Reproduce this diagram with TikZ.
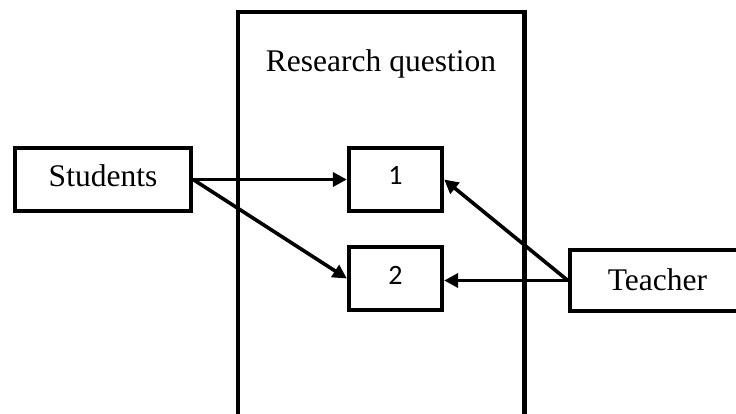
\documentclass[tikz,border=0pt]{standalone}
\usepackage{fontspec}
\setmainfont{Liberation Serif}
\newfontfamily\numfont{Carlito}
\usetikzlibrary{arrows.meta}
\begin{document}
\begin{tikzpicture}[x=1pt,y=-1pt,
  boxstyle/.style={draw, line width=4.3pt, inner sep=0pt, minimum height=63pt,
    font=\fontsize{31.5}{36}\selectfont},
  numbox/.style={boxstyle, minimum width=93pt, text height=11pt, text depth=0pt,
    font=\numfont\fontsize{28}{32}\selectfont},
  conn/.style={line width=3.6pt, -{Triangle[length=14pt,width=14pt]}}]
\useasboundingbox (0,0) rectangle (736,414);
\clip (0,0) rectangle (736,414);
% frame
\node (frame) [draw, line width=4.6pt, minimum width=286.5pt, minimum height=460pt,
  inner sep=0pt, anchor=north] at (381.3,9.8) {};
\node (rq) [anchor=base, inner sep=0pt, font=\fontsize{31.5}{36}\selectfont] at (381,72) {Research question};
% boxes
\node (st) [boxstyle, minimum width=176pt, text height=15pt, text depth=0pt] at (103,179.5) {Students};
\node (b1) [numbox] at (395.5,179.5) {1};
\node (b2) [numbox] at (395.5,278.5) {2};
\node (te) [boxstyle, minimum width=175pt, minimum height=61pt, text height=19pt, text depth=0pt] at (657.5,280.5) {Teacher};
% connectors
\draw[conn] (st.east) -- (b1.west);
\draw[conn] (st.east) -- (b2.west);
\draw[conn] (te.west) -- (b1.east);
\draw[conn] (te.west) -- (te.west -| b2.east);
\end{tikzpicture}
\end{document}
